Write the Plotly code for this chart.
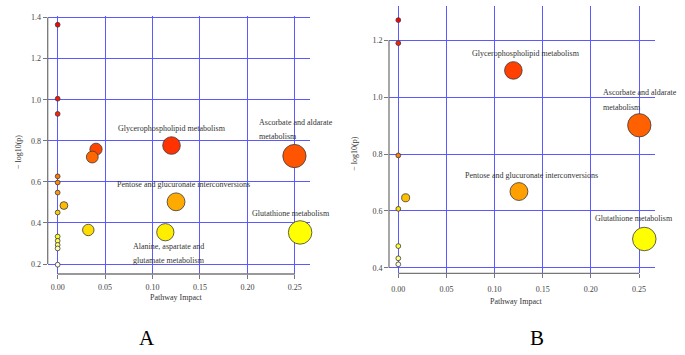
import math
import plotly.graph_objects as go

# ---------------- data ----------------
x_ticks = [0.0, 0.05, 0.10, 0.15, 0.20, 0.25]
x_tick_labels = ["0.00", "0.05", "0.10", "0.15", "0.20", "0.25"]

A_y_ticks = [0.2, 0.4, 0.6, 0.8, 1.0, 1.2, 1.4]
A_y_tick_labels = ["0.2", "0.4", "0.6", "0.8", "1.0", "1.2", "1.4"]
B_y_ticks = [0.4, 0.6, 0.8, 1.0, 1.2]
B_y_tick_labels = ["0.4", "0.6", "0.8", "1.0", "1.2"]

A_impact = [0.0, 0.0, 0.0, 0.120, 0.0404, 0.2496, 0.0365, 0.0, 0.0, 0.0,
            0.1248, 0.0066, 0.0, 0.0323, 0.1135, 0.2556, 0.0, 0.0, 0.0, 0.0, 0.0]
A_logp = [1.365, 1.005, 0.931, 0.777, 0.759, 0.726, 0.721, 0.627, 0.597, 0.548,
          0.503, 0.485, 0.451, 0.366, 0.355, 0.354, 0.334, 0.313, 0.293, 0.276, 0.197]
A_names = ["", "", "", "Glycerophospholipid metabolism", "", "Ascorbate and aldarate metabolism",
           "", "", "", "", "Pentose and glucuronate interconversions", "", "", "",
           "Alanine, aspartate and glutamate metabolism", "Glutathione metabolism",
           "", "", "", "", ""]

B_impact = [0.0, 0.0, 0.1195, 0.2503, 0.0, 0.1253, 0.0076, 0.0, 0.2555, 0.0, 0.0, 0.0]
B_logp = [1.271, 1.190, 1.094, 0.901, 0.795, 0.668, 0.646, 0.607, 0.501, 0.476, 0.433, 0.412]
B_names = ["", "", "Glycerophospholipid metabolism", "Ascorbate and aldarate metabolism", "",
           "Pentose and glucuronate interconversions", "", "", "Glutathione metabolism", "", "", ""]

panel_letters = ["A", "B"]
x_title = "Pathway Impact"
y_title = "\u2212 log10(p)"

# ---------------- styling helpers ----------------
FONT = "Liberation Serif, Times New Roman, serif"
GRID = "#5a5aff"
AXIS = "#777777"
TXT = "#333333"


def heat_colors(n):
    """R's heat.colors(n)."""
    j = n // 4
    i = n - j
    cols = []
    for k in range(i):
        h = (1 / 6) * k / (i - 1) if i > 1 else 0
        g = round(h * 6 * 255)
        cols.append("rgb(255,%d,0)" % g)
    if j > 0:
        s0, s1 = 1 - 1 / (2 * j), 1 / (2 * j)
        for k in range(j):
            s = s0 + (s1 - s0) * (k / (j - 1) if j > 1 else 0)
            b = round((1 - s) * 255)
            cols.append("rgb(255,255,%d)" % b)
    return cols


def colors_by_rank(vals):
    pal = heat_colors(len(vals))
    order = sorted(range(len(vals)), key=lambda k: -vals[k])
    out = [None] * len(vals)
    for r, k in enumerate(order):
        out[k] = pal[r]
    return out


def sizes(impacts):
    return [4.8 + 37.0 * math.sqrt(v) for v in impacts]


# label line-wrapping and offsets (pixels, relative to the point)
wrap = {
    "Ascorbate and aldarate metabolism": ["Ascorbate and aldarate", "metabolism"],
    "Alanine, aspartate and glutamate metabolism": ["Alanine, aspartate and", "glutamate metabolism"],
}
# (xanchor, dx, [dy per line])  screen coords: dy positive = down
A_label_pos = {
    "Glycerophospholipid metabolism": ("center", 0, [-16.7]),
    "Ascorbate and aldarate metabolism": ("left", -37.6, [-33.6, -19.6]),
    "Pentose and glucuronate interconversions": ("center", 7.3, [-17]),
    "Glutathione metabolism": ("center", -8.8, [-18.7]),
    "Alanine, aspartate and glutamate metabolism": ("left", -34.6, [14.4, 28.4]),
}
B_label_pos = {
    "Glycerophospholipid metabolism": ("center", 12.4, [-17]),
    "Ascorbate and aldarate metabolism": ("left", -38.3, [-32.6, -18]),
    "Pentose and glucuronate interconversions": ("center", 12.3, [-16]),
    "Glutathione metabolism": ("center", -10.5, [-20.4]),
}

W, H = 685, 355

fig = go.Figure()
panels = [
    dict(xs=A_impact, ys=A_logp, names=A_names, yt=A_y_ticks, ytl=A_y_tick_labels,
         xa="x", ya="y", pos=A_label_pos,
         px_x=(47.7, 310.0), px_y=(13.5, 273.3), xr=[-0.0105, 0.266], yr=[0.1517, 1.4058],
         standoff=1, xt_pos=(176.7, 297.3), yt_pos=(18.3, 150), letter_pos=(146.7, 338)),
    dict(xs=B_impact, ys=B_logp, names=B_names, yt=B_y_ticks, ytl=B_y_tick_labels,
         xa="x2", ya="y2", pos=B_label_pos,
         px_x=(389.0, 655.0), px_y=(3.5, 272.7), xr=[-0.00966, 0.2666], yr=[0.380, 1.319],
         standoff=4, xt_pos=(516.7, 300.7), yt_pos=(355, 152), letter_pos=(537.3, 338)),
]

annotations = []
shapes = []
for pi, p in enumerate(panels):
    fig.add_trace(go.Scatter(
        x=p["xs"], y=p["ys"], mode="markers", xaxis=p["xa"], yaxis=p["ya"],
        marker=dict(size=sizes(p["xs"]), color=colors_by_rank(p["ys"]),
                    line=dict(color="#3a3a3a", width=0.8), opacity=1),
        showlegend=False, cliponaxis=False, hoverinfo="skip"))

    suffix = "" if pi == 0 else "2"
    axx = dict(
        domain=[p["px_x"][0] / W, p["px_x"][1] / W], range=p["xr"], anchor=p["ya"],
        tickmode="array", tickvals=x_ticks, ticktext=x_tick_labels,
        ticks="outside", ticklen=4, tickwidth=1, tickcolor=AXIS,
        ticklabelstandoff=p["standoff"],
        showgrid=True, gridcolor=GRID, gridwidth=1.2,
        zeroline=True, zerolinecolor=GRID, zerolinewidth=1.2,
        showline=False, tickfont=dict(family=FONT, size=8, color="#444"), fixedrange=True)
    axy = dict(
        domain=[1 - p["px_y"][1] / H, 1 - p["px_y"][0] / H], range=p["yr"], anchor=p["xa"],
        tickmode="array", tickvals=p["yt"], ticktext=p["ytl"],
        ticks="outside", ticklen=4, tickwidth=1, tickcolor=AXIS,
        showgrid=True, gridcolor=GRID, gridwidth=1.2, zeroline=False,
        showline=False, tickfont=dict(family=FONT, size=8, color="#444"), fixedrange=True)
    fig.layout["xaxis" + suffix] = axx
    fig.layout["yaxis" + suffix] = axy

    # R-style axis lines spanning the tick range
    shapes.append(dict(type="line", xref=p["xa"] + " domain", yref=p["ya"],
                       x0=0, x1=0, y0=min(p["yt"]), y1=max(p["yt"]),
                       line=dict(color=AXIS, width=1.3), layer="above"))
    shapes.append(dict(type="line", xref=p["xa"], yref=p["ya"] + " domain",
                       x0=min(x_ticks), x1=max(x_ticks), y0=0, y1=0,
                       line=dict(color=AXIS, width=1.3), layer="above"))

    # pathway labels
    for xv, yv, nm in zip(p["xs"], p["ys"], p["names"]):
        if not nm:
            continue
        lines = wrap.get(nm, [nm])
        anchor, dx, dys = p["pos"][nm]
        for ln, dy in zip(lines, dys):
            annotations.append(dict(
                x=xv, y=yv, xref=p["xa"], yref=p["ya"], text=ln, showarrow=False,
                xanchor=anchor, yanchor="middle", xshift=dx, yshift=-dy,
                font=dict(family=FONT, size=8, color=TXT)))

    # axis titles
    annotations.append(dict(x=p["xt_pos"][0] / W, y=1 - p["xt_pos"][1] / H, xref="paper", yref="paper",
                            text=x_title, showarrow=False, xanchor="center", yanchor="middle",
                            font=dict(family=FONT, size=8, color=TXT)))
    annotations.append(dict(x=p["yt_pos"][0] / W, y=1 - p["yt_pos"][1] / H, xref="paper", yref="paper",
                            text=y_title, showarrow=False, textangle=-90, xanchor="center",
                            yanchor="middle", font=dict(family=FONT, size=8, color=TXT)))
    # panel letter
    annotations.append(dict(x=p["letter_pos"][0] / W, y=1 - p["letter_pos"][1] / H, xref="paper",
                            yref="paper", text=panel_letters[pi], showarrow=False,
                            xanchor="center", yanchor="middle",
                            font=dict(family=FONT, size=21, color="#000")))

fig.update_layout(
    width=W, height=H, margin=dict(l=0, r=0, t=0, b=0),
    paper_bgcolor="white", plot_bgcolor="white",
    annotations=annotations, shapes=shapes, showlegend=False,
)

fig.write_html("out.html", config={"displayModeBar": False},
               post_script="document.body.style.margin='0';document.body.style.overflow='hidden';")
